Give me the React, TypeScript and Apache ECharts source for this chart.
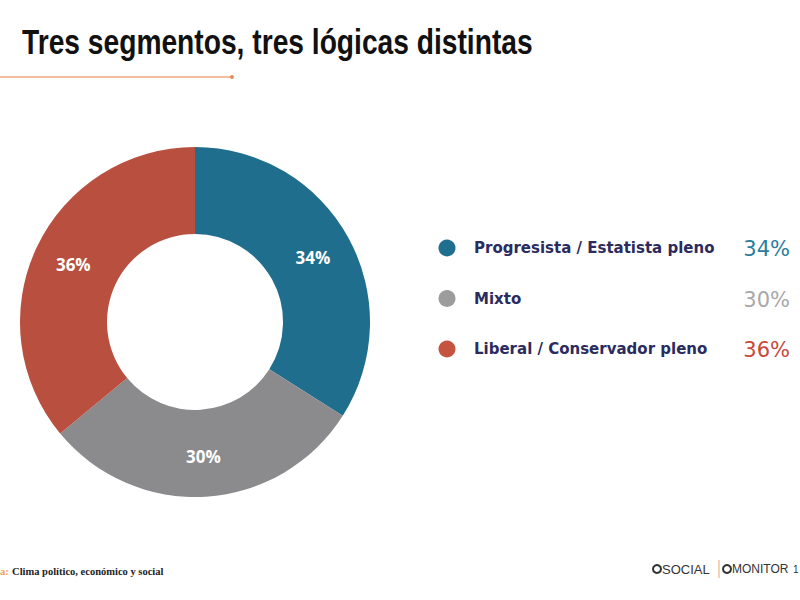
import React, { useEffect, useRef } from "react";
import * as echarts from "echarts";

const categories = ["Progresista / Estatista pleno", "Mixto", "Liberal / Conservador pleno"];
const values = [34, 30, 36];
const sliceColors = ["#1f6e8e", "#8b8b8d", "#b94f3e"];
const dotColors = ["#1f6f8f", "#9c9c9c", "#c4543f"];
const valueColors = ["#2a7d9b", "#a8a8a8", "#c9473b"];
const titleText = "Tres segmentos, tres lógicas distintas";
const sourceLabel = "a:";
const sourceText = "Clima político, económico y social";

export default function App() {
  const ref = useRef<HTMLDivElement>(null);
  useEffect(() => {
    if (!ref.current) return;
    const chart = echarts.init(ref.current, null, { renderer: "svg" });
    const legendGraphics: any[] = [];
    categories.forEach((c, i) => {
      const y = 248 + i * 50.5;
      legendGraphics.push({
        type: "circle",
        shape: { cx: 447, cy: y, r: 8.5 },
        style: { fill: dotColors[i] },
      });
      legendGraphics.push({
        type: "text",
        x: 474,
        y,
        style: {
          text: c,
          fill: "#2b2b5e",
          font: "bold 15px 'DejaVu Sans'",
          verticalAlign: "middle",
          textAlign: "left",
        },
      });
      legendGraphics.push({
        type: "text",
        x: 790,
        y: y + 1,
        style: {
          text: values[i] + "%",
          fill: valueColors[i],
          font: "21px 'DejaVu Sans'",
          verticalAlign: "middle",
          textAlign: "right",
        },
      });
    });
    chart.setOption({
      animation: false,
      backgroundColor: "#ffffff",
      series: [
        {
          type: "pie",
          center: [195, 322],
          radius: [88, 175],
          startAngle: 90,
          clockwise: true,
          avoidLabelOverlap: false,
          data: categories.map((c, i) => ({
            name: c,
            value: values[i],
            itemStyle: { color: sliceColors[i] },
          })),
          label: {
            show: true,
            position: "inside",
            formatter: (p: any) => p.value + "%",
            color: "#ffffff",
            fontSize: 17,
            fontWeight: "bold",
            fontFamily: "'Open Sans'",
          },
          labelLine: { show: false },
          emphasis: { disabled: true },
        },
      ],
      graphic: [
        {
          type: "text",
          x: 22,
          y: 42,
          scaleX: 0.783,
          style: {
            text: titleText,
            fill: "#111111",
            font: "bold 36px 'Liberation Sans'",
            verticalAlign: "middle",
          },
        },
        {
          type: "line",
          shape: { x1: 0, y1: 77, x2: 232, y2: 77 },
          style: { stroke: "#f2a77a", lineWidth: 1.5 },
        },
        {
          type: "circle",
          shape: { cx: 232, cy: 77, r: 2 },
          style: { fill: "#e98c5a" },
        },
        ...legendGraphics,
        {
          type: "text",
          x: 0,
          y: 571,
          style: {
            text: "{o|" + sourceLabel + "} {t|" + sourceText + "}",
            verticalAlign: "middle",
            rich: {
              o: { fill: "#f0a060", font: "bold 10.5px 'Liberation Serif'" },
              t: { fill: "#222222", font: "bold 10.5px 'Liberation Serif'" },
            },
          },
        },
        {
          type: "circle",
          shape: { cx: 657, cy: 569, r: 4 },
          style: { fill: "none", stroke: "#333", lineWidth: 2 },
        },
        {
          type: "text",
          x: 662,
          y: 569,
          style: { text: "SOCIAL", fill: "#333", font: "13px 'Liberation Sans'", verticalAlign: "middle" },
        },
        {
          type: "line",
          shape: { x1: 719, y1: 560, x2: 719, y2: 578 },
          style: { stroke: "#e9a86a", lineWidth: 1 },
        },
        {
          type: "circle",
          shape: { cx: 727, cy: 569, r: 4 },
          style: { fill: "none", stroke: "#333", lineWidth: 2 },
        },
        {
          type: "text",
          x: 732,
          y: 569,
          style: { text: "MONITOR", fill: "#333", font: "12px 'Liberation Sans'", verticalAlign: "middle" },
        },
        {
          type: "text",
          x: 793,
          y: 569,
          style: { text: "1", fill: "#333", font: "10px 'Liberation Sans'", verticalAlign: "middle" },
        },
      ],
    });
    return () => chart.dispose();
  }, []);
  return (
    <div
      ref={ref}
      style={{ position: "fixed", left: 0, top: 0, width: 800, height: 600 }}
    />
  );
}
